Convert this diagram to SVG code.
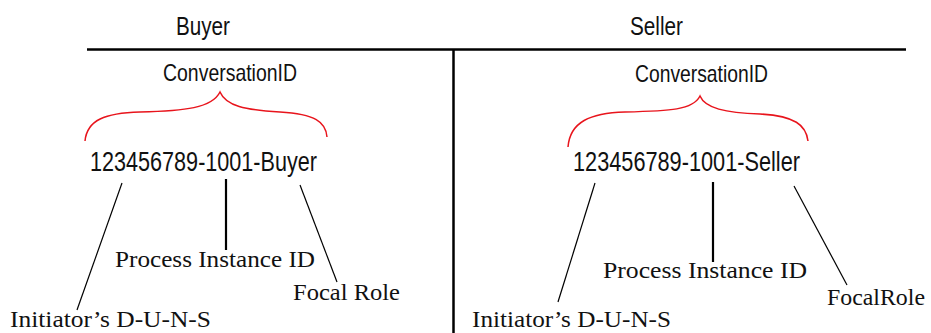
<svg xmlns="http://www.w3.org/2000/svg" width="931" height="333" viewBox="0 0 931 333">
  <style>
    .sans { font-family: "Liberation Sans", Arial, sans-serif; fill: #111; }
    .serif { font-family: "Liberation Serif", "Times New Roman", serif; fill: #111; font-size: 23px; }
    .rule { stroke: #000; stroke-width: 2.5; fill: none; }
    .thin { stroke: #000; stroke-width: 1.2; fill: none; }
    .thick { stroke: #000; stroke-width: 2.2; fill: none; }
    .brace { stroke: #e8141c; stroke-width: 1.5; fill: none; }
  </style>
  <rect width="931" height="333" fill="#fff"/>

  <!-- column headers and separator -->
  <g id="header">
    <text class="sans" x="176" y="35" font-size="26" textLength="54" lengthAdjust="spacingAndGlyphs">Buyer</text>
    <text class="sans" x="630" y="35" font-size="26" textLength="53" lengthAdjust="spacingAndGlyphs">Seller</text>
    <line class="rule" x1="87" y1="49.5" x2="906" y2="49.5"/>
    <line class="rule" x1="453.5" y1="49.5" x2="453.5" y2="333"/>
  </g>

  <!-- buyer side -->
  <g id="buyer-id">
    <text class="sans" x="163" y="81" font-size="24" textLength="134" lengthAdjust="spacingAndGlyphs">ConversationID</text>
    <path class="brace" d="M85,141 C87,120 105,113 140,112 C185,111 212,108 220,92 C226,106 245,110 280,112 C315,114 326,122 327,137"/>
    <text class="sans" x="90" y="171" font-size="28" textLength="227" lengthAdjust="spacingAndGlyphs">123456789-1001-Buyer</text>
  </g>
  <g id="buyer-duns">
    <text class="serif" x="10" y="327" textLength="201" lengthAdjust="spacingAndGlyphs">Initiator’s D-U-N-S</text>
  </g>
  <g id="buyer-instance">
    <text class="serif" x="115" y="267" textLength="200" lengthAdjust="spacingAndGlyphs">Process Instance ID</text>
  </g>
  <g id="buyer-role">
    <text class="serif" x="293" y="300" textLength="107" lengthAdjust="spacingAndGlyphs">Focal Role</text>
  </g>

  <!-- seller side -->
  <g id="seller-id">
    <text class="sans" x="635" y="82" font-size="24" textLength="133" lengthAdjust="spacingAndGlyphs">ConversationID</text>
    <path class="brace" d="M568,147 C570,122 590,113 625,112 C670,111 693,110 700,96 C705,108 725,113 760,114 C795,116 806,125 808,141"/>
    <text class="sans" x="573" y="171" font-size="28" textLength="227" lengthAdjust="spacingAndGlyphs">123456789-1001-Seller</text>
  </g>
  <g id="seller-duns">
    <text class="serif" x="472" y="327" textLength="199" lengthAdjust="spacingAndGlyphs">Initiator’s D-U-N-S</text>
  </g>
  <g id="seller-instance">
    <text class="serif" x="603" y="278" textLength="204" lengthAdjust="spacingAndGlyphs">Process Instance ID</text>
  </g>
  <g id="seller-role">
    <text class="serif" x="827" y="305" textLength="98" lengthAdjust="spacingAndGlyphs">FocalRole</text>
  </g>

  <!-- pointer lines from the ID parts to their labels -->
  <g id="connectors">
    <line class="thin" x1="122" y1="183" x2="77" y2="310"/>
    <line class="thick" x1="226" y1="179" x2="226" y2="250"/>
    <line class="thin" x1="300" y1="185" x2="337" y2="282"/>
    <line class="thin" x1="595" y1="183" x2="558" y2="302"/>
    <line class="thick" x1="713" y1="182" x2="713" y2="262"/>
    <line class="thin" x1="794" y1="186" x2="847" y2="285"/>
  </g>
</svg>
